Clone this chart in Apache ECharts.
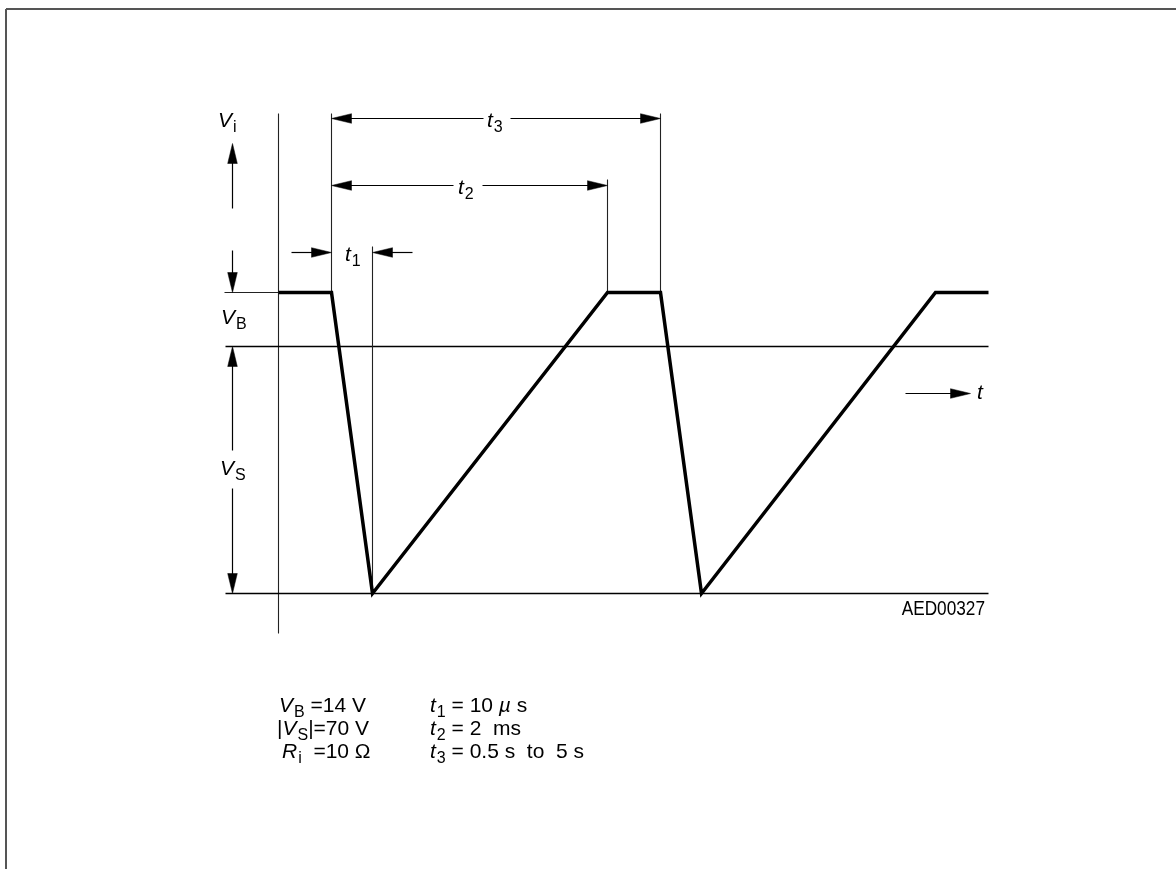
<!DOCTYPE html>
<html><head><meta charset="utf-8">
<script src="https://cdn.jsdelivr.net/npm/echarts@6/dist/echarts.min.js"></script>
<style>html,body{margin:0;padding:0;background:#fff}#c{width:1176px;height:869px}</style>
</head><body><div id="c"></div>
<script>
// Schematic units: x = time (V axis at 0), y = voltage (0 V line at 0, +VB above, -VS below)
const waveT = [0, 53, 94, 329, 382, 423, 657, 710];
const waveV = [54, 54, -247, 54, 54, -247, 54, 54];

// thin guide lines [x1, y1, x2, y2, kind]  kind: 0 normal, 1 level line, 2 frame
const guideLines = [
  [0, 233, 0, -287, 0],
  [-54, 54, 0, 54, 0],
  [-53, 0, 710, 0, 1],
  [-53, -247, 710, -247, 1],
  [53, 233, 53, 54, 0],
  [94, 100, 94, -247, 0],
  [329, 167, 329, 54, 0],
  [382, 233, 382, 54, 0],
  [-272.5, 337.5, 898, 337.5, 2],
  [-272.5, 337.5, -272.5, -523, 2]
];

// dimension arrows [x1, y1, x2, y2, headAtStart, headAtEnd]
const dimArrows = [
  [53, 228, 205, 228, 1, 0],
  [232, 228, 382, 228, 0, 1],
  [53, 161, 175, 161, 1, 0],
  [204, 161, 329, 161, 0, 1],
  [13, 94, 53, 94, 0, 1],
  [134, 94, 94, 94, 0, 1],
  [-46, 138, -46, 203, 0, 1],
  [-46, 96, -46, 54, 0, 1],
  [-46, -104, -46, 0, 0, 1],
  [-46, -142, -46, -247, 0, 1],
  [627, -47, 692, -47, 0, 1]
];

// labels [x, y, align]
const labelPos = [
  [-60.5, 225.5, 'left'],
  [208.5, 225.5, 'left'],
  [179.5, 158.5, 'left'],
  [66.5, 91.5, 'left'],
  [-57.5, 28, 'left'],
  [-58.5, -123, 'left'],
  [698.5, -46.5, 'left'],
  [706.5, -263, 'right'],
  [0.5, -359.5, 'left'],
  [-1.5, -383, 'left'],
  [3.5, -405.5, 'left'],
  [151.5, -359.5, 'left'],
  [151.5, -383, 'left'],
  [151.5, -405.5, 'left']
];
const labelText = [
  '{v|V}{s|i}',
  '{v|t}{s|3}',
  '{v|t}{s|2}',
  '{v|t}{s|1}',
  '{v|V}{s|B}',
  '{v|V}{s|S}',
  '{v|t}',
  '{c|AED00327}',
  '{v|V}{s|B}{n| =14 V}',
  '{n||}{v|V}{s|S}{n||=70 V}',
  '{v|R}{s|i}{n|  =10 Ω}',
  '{v|t}{s|1}{n| = 10 }{v|µ}{n| s}',
  '{v|t}{s|2}{n| = 2  ms}',
  '{v|t}{s|3}{n| = 0.5 s  to  5 s}'
];

const FAM = '"Liberation Sans", Arimo, "DejaVu Sans", sans-serif';
const RICH = {
  v: {fontSize: 21, fontStyle: 'italic', fontFamily: FAM, fill: '#000', verticalAlign: 'middle'},
  n: {fontSize: 21, fontFamily: FAM, fill: '#000', verticalAlign: 'middle'},
  c: {fontSize: 21, fontFamily: FAM, fill: '#000', verticalAlign: 'middle'},
  s: {fontSize: 16, fontFamily: FAM, fill: '#000', verticalAlign: 'middle', padding: [13, 0, 0, 1]}
};

const chart = echarts.init(document.getElementById('c'), null, {renderer: 'canvas'});

function lineItem(params, api) {
  const g = guideLines[params.dataIndex];
  const p1 = api.coord([g[0], g[1]]), p2 = api.coord([g[2], g[3]]);
  const st = g[4] === 2 ? {stroke: '#555', lineWidth: 2}
           : g[4] === 1 ? {stroke: '#000', lineWidth: 1.5}
           : {stroke: '#222', lineWidth: 1.1};
  return {type: 'line', shape: {x1: p1[0], y1: p1[1], x2: p2[0], y2: p2[1]}, style: st};
}

function arrowItem(params, api) {
  const a = dimArrows[params.dataIndex];
  const p1 = api.coord([a[0], a[1]]), p2 = api.coord([a[2], a[3]]);
  const dx = p2[0] - p1[0], dy = p2[1] - p1[1], len = Math.hypot(dx, dy);
  const ux = dx / len, uy = dy / len;
  const HL = 20, HW = 4.8;
  const children = [];
  function head(tip, dx2, dy2) {
    const bx = tip[0] - dx2 * HL, by = tip[1] - dy2 * HL;
    return {type: 'polygon', shape: {points: [[tip[0], tip[1]], [bx - dy2 * HW, by + dx2 * HW], [bx + dy2 * HW, by - dx2 * HW]]},
            style: {fill: '#000', stroke: '#000', lineWidth: 0.5}};
  }
  let s = p1, e = p2;
  if (a[4]) { children.push(head(p1, -ux, -uy)); s = [p1[0] + ux * HL * 0.7, p1[1] + uy * HL * 0.7]; }
  if (a[5]) { children.push(head(p2, ux, uy)); e = [p2[0] - ux * HL * 0.7, p2[1] - uy * HL * 0.7]; }
  children.unshift({type: 'line', shape: {x1: s[0], y1: s[1], x2: e[0], y2: e[1]}, style: {stroke: '#000', lineWidth: 1.2}});
  return {type: 'group', children};
}

function labelItem(params, api) {
  const l = labelPos[params.dataIndex];
  const p = api.coord([l[0], l[1]]);
  const txt = labelText[params.dataIndex];
  return {type: 'text', x: p[0], y: p[1], scaleX: txt.indexOf('{c|') === 0 ? 0.82 : 1,
    style: {text: txt, align: l[2], verticalAlign: 'middle', rich: RICH,
            fill: '#000', fontSize: 21, fontFamily: FAM}};
}

chart.setOption({
  animation: false,
  backgroundColor: '#fff',
  grid: {left: 0, right: 0, top: 0, bottom: 0},
  xAxis: {type: 'value', min: -278.5, max: 897.5, show: false},
  yAxis: {type: 'value', min: -522.5, max: 346.5, show: false},
  series: [
    {type: 'custom', renderItem: lineItem, data: guideLines.map((g, i) => [g[0], g[1], i]), silent: true, z: 1},
    {type: 'line', data: waveT.map((t, i) => [t, waveV[i]]), showSymbol: false, symbol: 'none',
     lineStyle: {color: '#000', width: 3.5, join: 'miter'}, z: 3, silent: true},
    {type: 'custom', renderItem: arrowItem, data: dimArrows.map((a, i) => [a[0], a[1], i]), silent: true, z: 2},
    {type: 'custom', renderItem: labelItem, data: labelPos.map((l, i) => [l[0], l[1], i]), silent: true, z: 4}
  ]
});
</script></body></html>
